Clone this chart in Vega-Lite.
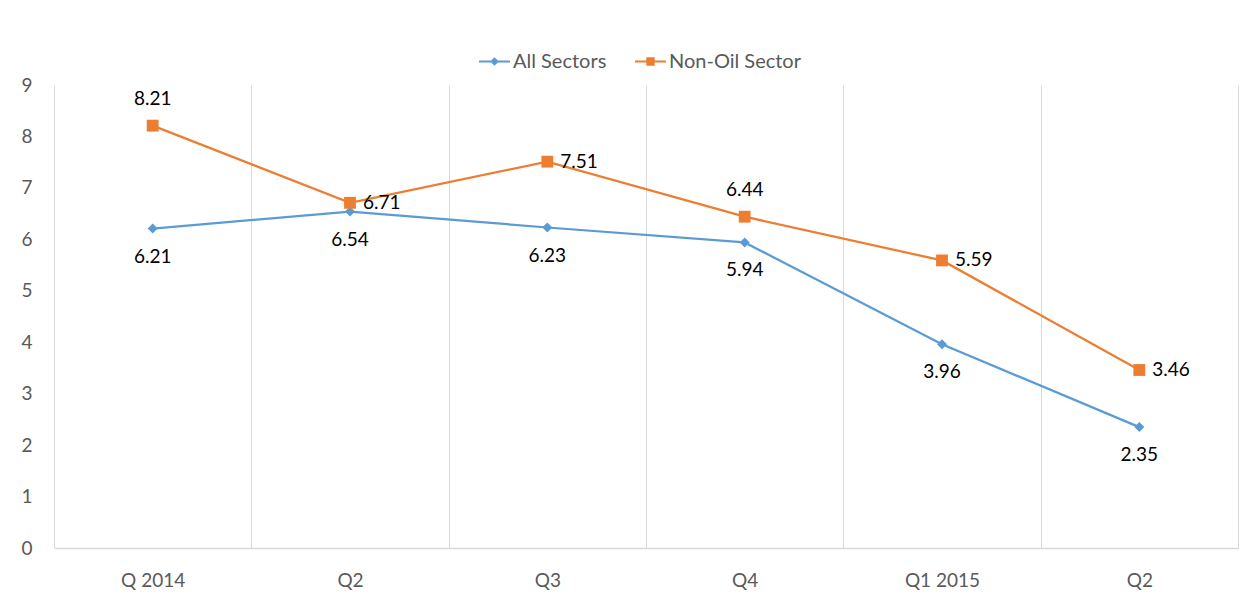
{
  "$schema": "https://vega.github.io/schema/vega-lite/v6.json",
  "autosize": {"type": "none"},
  "width": 1184,
  "height": 463,
  "padding": {"left": 54, "top": 85, "right": 2, "bottom": 51},
  "background": "white",
  "config": {
    "view": {"stroke": null},
    "font": "Lato",
    "axis": {"labelFont": "Lato", "labelFontSize": 19, "labelColor": "#595959", "title": null},
    "legend": {
      "labelFont": "Lato", "labelFontSize": 20, "labelColor": "#595959",
      "orient": "none", "legendY": -39, "direction": "horizontal",
      "symbolSize": 961, "labelOffset": 3,
      "symbolOpacity": 1, "symbolStrokeWidth": 0
    }
  },
  "data": {
    "values": [
      {"quarter": "Q 2014", "series": "All Sectors", "value": 6.21},
      {"quarter": "Q2", "series": "All Sectors", "value": 6.54},
      {"quarter": "Q3", "series": "All Sectors", "value": 6.23},
      {"quarter": "Q4", "series": "All Sectors", "value": 5.94},
      {"quarter": "Q1 2015", "series": "All Sectors", "value": 3.96},
      {"quarter": "Q2 ", "series": "All Sectors", "value": 2.35},
      {"quarter": "Q 2014", "series": "Non-Oil Sector", "value": 8.21},
      {"quarter": "Q2", "series": "Non-Oil Sector", "value": 6.71},
      {"quarter": "Q3", "series": "Non-Oil Sector", "value": 7.51},
      {"quarter": "Q4", "series": "Non-Oil Sector", "value": 6.44},
      {"quarter": "Q1 2015", "series": "Non-Oil Sector", "value": 5.59},
      {"quarter": "Q2 ", "series": "Non-Oil Sector", "value": 3.46}
    ]
  },
  "encoding": {
    "x": {
      "field": "quarter", "type": "ordinal", "sort": null,
      "scale": {"paddingInner": 0, "paddingOuter": 0},
      "axis": {
        "labelAngle": 0, "grid": true, "tickBand": "extent", "gridColor": "#d9d9d9", "gridWidth": 1,
        "ticks": false, "domain": true, "domainColor": "#d9d9d9", "domainWidth": 1.5,
        "labelPadding": 23, "labelBaseline": "top"
      }
    },
    "y": {
      "field": "value", "type": "quantitative",
      "scale": {"domain": [0, 9], "nice": false},
      "axis": {"values": [0,1,2,3,4,5,6,7,8,9], "grid": false, "ticks": false, "domain": false, "labelPadding": 22}
    }
  },
  "layer": [
    {
      "mark": {"type": "line", "strokeWidth": 2.25},
      "encoding": {
        "color": {
          "field": "series", "type": "nominal",
          "scale": {"domain": ["All Sectors", "Non-Oil Sector"], "range": ["#5B9BD5", "#ED7D31"]},
          "legend": null
        }
      }
    },
    {
      "mark": {"type": "point", "filled": true, "opacity": 1},
      "encoding": {
        "color": {"field": "series", "type": "nominal", "legend": null},
        "shape": {
          "field": "series", "type": "nominal",
          "scale": {"domain": ["All Sectors", "Non-Oil Sector"], "range": ["diamond", "square"]},
          "legend": null
        },
        "size": {
          "field": "series", "type": "nominal",
          "scale": {"domain": ["All Sectors", "Non-Oil Sector"], "range": [100, 140]},
          "legend": null
        }
      }
    },
    {
      "transform": [{"filter": "false"}],
      "mark": {"type": "point", "filled": true, "opacity": 1, "color": "#5B9BD5"},
      "encoding": {
        "shape": {
          "field": "series", "type": "nominal",
          "scale": {
            "domain": ["All Sectors"],
            "range": ["M-1,-0.07H1V0.07H-1Z M0,-0.28L0.28,0L0,0.28L-0.28,0Z"]
          },
          "legend": {"title": null, "legendX": 425}
        }
      }
    },
    {
      "transform": [{"filter": "false"}],
      "mark": {"type": "point", "filled": true, "opacity": 1, "color": "#ED7D31"},
      "encoding": {
        "shape": {
          "field": "series", "type": "nominal",
          "scale": {
            "domain": ["Non-Oil Sector"],
            "range": ["M-1,-0.07H1V0.07H-1Z M-0.27,-0.27H0.27V0.27H-0.27Z"]
          },
          "legend": {"title": null, "legendX": 581}
        }
      }
    },
    {
      "transform": [{"filter": "datum.series === 'All Sectors'"}],
      "mark": {"type": "text", "font": "Lato", "fontSize": 19, "color": "#000000", "baseline": "middle", "dy": 28},
      "encoding": {"text": {"field": "value", "type": "quantitative", "format": ".2f"}}
    },
    {
      "transform": [{"filter": "datum.series === 'Non-Oil Sector' && (datum.quarter === 'Q 2014' || datum.quarter === 'Q4')"}],
      "mark": {"type": "text", "font": "Lato", "fontSize": 19, "color": "#000000", "baseline": "middle", "dy": -27},
      "encoding": {"text": {"field": "value", "type": "quantitative", "format": ".2f"}}
    },
    {
      "transform": [{"filter": "datum.series === 'Non-Oil Sector' && datum.quarter !== 'Q 2014' && datum.quarter !== 'Q4'"}],
      "mark": {"type": "text", "font": "Lato", "fontSize": 19, "color": "#000000", "baseline": "middle", "align": "left", "dx": 13},
      "encoding": {"text": {"field": "value", "type": "quantitative", "format": ".2f"}}
    }
  ],
  "resolve": {"scale": {"shape": "independent"}, "legend": {"shape": "independent"}}
}
